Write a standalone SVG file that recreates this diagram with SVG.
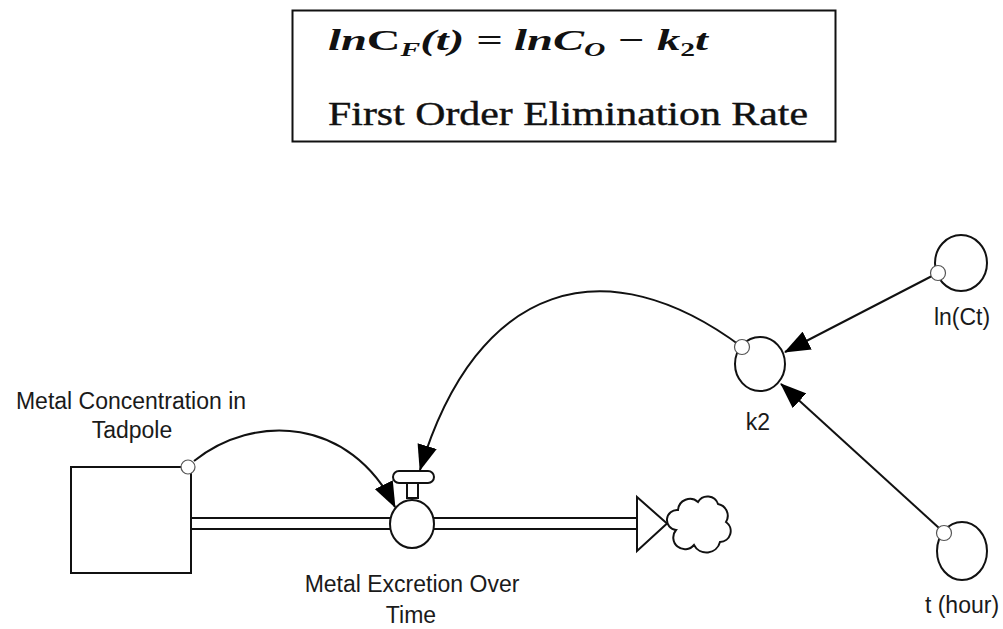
<svg xmlns="http://www.w3.org/2000/svg" width="1003" height="629" viewBox="0 0 1003 629">
  <style>
    .lbl { font-family: "Liberation Sans", Arial, sans-serif; font-size: 23px; fill: #1a1a1a; text-anchor: middle; }
    .shape { fill: #fff; stroke: #111; stroke-width: 2; }
    .conn { fill: none; stroke: #111; stroke-width: 2; }
    .port { fill: #fff; stroke: #555; stroke-width: 1.2; }
  </style>
  <defs>
    <marker id="arr" viewBox="0 0 26 20" refX="25" refY="10" markerWidth="26" markerHeight="20" markerUnits="userSpaceOnUse" orient="auto">
      <path d="M0,0 L26,10 L0,20 z" fill="#000"/>
    </marker>
  </defs>
  <rect width="1003" height="629" fill="#fff"/>

  <g id="equation-box">
    <rect x="292.5" y="10.5" width="543" height="131" fill="#fff" stroke="#111" stroke-width="2"/>
    <text x="328" y="50" font-family="'Liberation Serif', 'Times New Roman', serif" font-weight="bold" font-style="italic" font-size="30" fill="#111" textLength="380" lengthAdjust="spacingAndGlyphs">ln<tspan font-style="normal">C</tspan><tspan font-size="19" dy="6">F</tspan><tspan dy="-6">(t) = lnC</tspan><tspan font-size="19" dy="6">O</tspan><tspan dy="-6"> − k</tspan><tspan font-size="19" font-style="normal" dy="6">2</tspan><tspan dy="-6">t</tspan></text>
    <text x="328" y="125" font-family="'Liberation Serif', 'Times New Roman', serif" font-size="33" fill="#111" stroke="#111" stroke-width="0.4" textLength="480" lengthAdjust="spacingAndGlyphs">First Order Elimination Rate</text>
  </g>

  <g id="flow-pipe">
    <rect x="191" y="518" width="447" height="11" fill="#fff"/>
    <line x1="191" y1="518" x2="638" y2="518" stroke="#111" stroke-width="2"/>
    <line x1="191" y1="529" x2="638" y2="529" stroke="#111" stroke-width="2"/>
    <polygon points="637,497 667,523.5 637,551" class="shape"/>
  </g>

  <g id="stock-metal-concentration">
    <rect x="71" y="467" width="120" height="106" class="shape"/>
    <text class="lbl" x="131" y="409">Metal Concentration in</text>
    <text class="lbl" x="132" y="438">Tadpole</text>
  </g>

  <g id="cloud-sink">
    <path d="M676,530 a10,10 0 0 1 2,-20 a12,12 0 0 1 20,-8 a11,11 0 0 1 20,2 a12,12 0 0 1 8,18 a11,11 0 0 1 -6,20 a14,14 0 0 1 -26,3 a10,10 0 0 1 -18,-15 z" class="shape"/>
  </g>

  <g id="flow-metal-excretion">
    <rect x="407" y="482" width="11" height="16" class="shape"/>
    <rect x="393" y="471" width="41" height="12" rx="6" ry="6" class="shape"/>
    <ellipse cx="412" cy="524" rx="22" ry="24" class="shape"/>
    <text class="lbl" x="412" y="592">Metal Excretion Over</text>
    <text class="lbl" x="411" y="623">Time</text>
  </g>

  <g id="aux-k2">
    <ellipse cx="760" cy="364" rx="25" ry="27" class="shape"/>
    <text class="lbl" x="758" y="430">k2</text>
  </g>

  <g id="aux-lnCt">
    <ellipse cx="961" cy="263" rx="26" ry="28" class="shape"/>
    <text class="lbl" x="962" y="325">ln(Ct)</text>
  </g>

  <g id="aux-thour">
    <ellipse cx="962" cy="551" rx="25" ry="29" class="shape"/>
    <text class="lbl" x="962" y="613">t (hour)</text>
  </g>

  <g id="connectors">
    <path class="conn" d="M194,461 C254,413 350,417 395,507" marker-end="url(#arr)"/>
    <path class="conn" d="M742,347 C607,246 477,280 420,470" marker-end="url(#arr)"/>
    <line class="conn" x1="932" y1="276" x2="785" y2="352" marker-end="url(#arr)"/>
    <line class="conn" x1="939" y1="528" x2="781" y2="384" marker-end="url(#arr)"/>
    <circle class="port" cx="188" cy="467" r="7"/>
    <circle class="port" cx="742" cy="347" r="7.5"/>
    <circle class="port" cx="938" cy="273" r="7.5"/>
    <circle class="port" cx="944" cy="533" r="7.5"/>
  </g>
</svg>
